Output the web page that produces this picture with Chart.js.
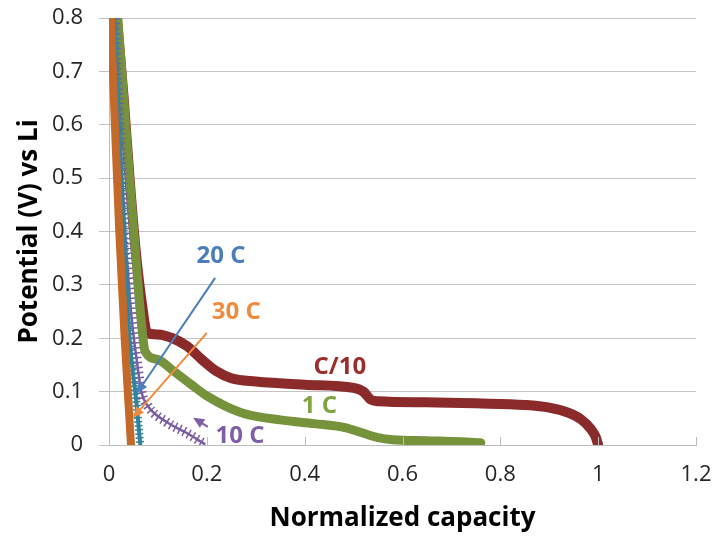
<!DOCTYPE html>
<html>
<head>
<meta charset="utf-8">
<script src="https://cdn.jsdelivr.net/npm/chart.js@4.4.0/dist/chart.umd.min.js"></script>
<style>
  html, body { margin: 0; padding: 0; background: #fff; }
  #graph-parent { width: 713px; height: 540px; }
</style>
</head>
<body>
<div id="graph-parent"><canvas id="graph"></canvas></div>
<script>
// discharge curves (x = normalized capacity, y = potential V vs Li)
const capC10 = [0.016, 0.03, 0.042, 0.055, 0.068, 0.078, 0.1, 0.13, 0.16, 0.19, 0.22, 0.25, 0.3, 0.4, 0.5, 0.52, 0.535, 0.55, 0.65, 0.75, 0.85, 0.9, 0.94, 0.965, 0.985, 0.995, 1.0]
const voltC10 = [0.8, 0.65, 0.5, 0.36, 0.26, 0.21, 0.207, 0.2, 0.185, 0.16, 0.138, 0.125, 0.119, 0.113, 0.107, 0.1, 0.085, 0.082, 0.08, 0.078, 0.075, 0.07, 0.06, 0.048, 0.03, 0.015, 0.0]

const cap1C = [0.018, 0.03, 0.042, 0.055, 0.065, 0.074, 0.1, 0.13, 0.17, 0.2, 0.24, 0.28, 0.35, 0.42, 0.48, 0.52, 0.55, 0.58, 0.65, 0.72, 0.76]
const volt1C = [0.8, 0.65, 0.5, 0.35, 0.24, 0.175, 0.16, 0.14, 0.112, 0.092, 0.072, 0.058, 0.047, 0.04, 0.033, 0.022, 0.014, 0.01, 0.008, 0.006, 0.004]

const cap10C = [0.012, 0.022, 0.033, 0.045, 0.058, 0.066, 0.078, 0.118, 0.16, 0.195]
const volt10C = [0.8, 0.6, 0.4, 0.25, 0.15, 0.1, 0.075, 0.043, 0.022, 0.002]

const cap20C = [0.01, 0.02, 0.03, 0.042, 0.056, 0.064]
const volt20C = [0.8, 0.6, 0.4, 0.2, 0.08, 0.0]

const cap30C = [0.004, 0.012, 0.021, 0.032, 0.045]
const volt30C = [0.8, 0.6, 0.4, 0.2, 0.0]

// tick labels
const xTicks = [0, 0.2, 0.4, 0.6, 0.8, 1, 1.2]
const yTicks = [0, 0.1, 0.2, 0.3, 0.4, 0.5, 0.6, 0.7, 0.8]

// annotation texts and where they sit (data units)
const noteText = ['20 C', '30 C', '10 C', 'C/10', '1 C']
const noteX = [0.229, 0.26, 0.268, 0.472, 0.43]
const noteY = [0.354, 0.249, 0.016, 0.145, 0.073]
const noteColor = ['#4a7ebb', '#f08a3c', '#7e5ea6', '#9b2d2d', '#7fa542']

// arrows: from -> to (data units)
const arrowFromX = [0.217, 0.2, 0.202]
const arrowFromY = [0.313, 0.21, 0.034]
const arrowToX = [0.057, 0.049, 0.172]
const arrowToY = [0.097, 0.051, 0.051]
const arrowColor = ['#4a7ebb', '#f08a3c', '#7e5ea6']

const FONT = "'Open Sans', 'Noto Sans', sans-serif"

function pts(xs, ys) {
    return xs.map((x, i) => ({x: x, y: ys[i]}))
}

function line(label, xs, ys, color, width, order, dash) {
    return {
        label: label,
        data: pts(xs, ys),
        borderColor: color,
        backgroundColor: color,
        borderWidth: width,
        borderDash: dash || [],
        borderCapStyle: dash ? 'butt' : 'round',
        pointRadius: 0,
        fill: false,
        cubicInterpolationMode: 'monotone',
        order: order
    }
}

const notes = {
    id: 'notes',
    afterDatasetsDraw(chart) {
        const ctx = chart.ctx
        const xs = chart.scales.x
        const ys = chart.scales.y
        ctx.save()

        // small inside tick marks on the x axis
        ctx.strokeStyle = '#bdbdbd'
        ctx.lineWidth = 1
        xTicks.forEach(v => {
            const px = Math.round(xs.getPixelForValue(v)) + 0.5
            ctx.beginPath()
            ctx.moveTo(px, ys.bottom)
            ctx.lineTo(px, ys.bottom - 8)
            ctx.stroke()
        })

        // arrows
        arrowFromX.forEach((fx, i) => {
            const x1 = xs.getPixelForValue(fx), y1 = ys.getPixelForValue(arrowFromY[i])
            const x2 = xs.getPixelForValue(arrowToX[i]), y2 = ys.getPixelForValue(arrowToY[i])
            const a = Math.atan2(y2 - y1, x2 - x1)
            const len = 11, half = 5
            ctx.strokeStyle = arrowColor[i]
            ctx.fillStyle = arrowColor[i]
            ctx.lineWidth = 2
            ctx.beginPath()
            ctx.moveTo(x1, y1)
            ctx.lineTo(x2 - Math.cos(a) * len * 0.8, y2 - Math.sin(a) * len * 0.8)
            ctx.stroke()
            ctx.beginPath()
            ctx.moveTo(x2, y2)
            ctx.lineTo(x2 - Math.cos(a) * len - Math.sin(a) * half, y2 - Math.sin(a) * len + Math.cos(a) * half)
            ctx.lineTo(x2 - Math.cos(a) * len + Math.sin(a) * half, y2 - Math.sin(a) * len - Math.cos(a) * half)
            ctx.closePath()
            ctx.fill()
        })

        // curve labels
        ctx.font = "bold 24px " + FONT
        ctx.textAlign = 'center'
        ctx.textBaseline = 'middle'
        noteText.forEach((t, i) => {
            ctx.fillStyle = noteColor[i]
            ctx.fillText(t, xs.getPixelForValue(noteX[i]), ys.getPixelForValue(noteY[i]))
        })
        ctx.restore()
    }
}

let ctx = document.getElementById("graph").getContext("2d")
var graph = new Chart(ctx, {
    type: 'line',
    data: {
        datasets: [
            line('30 C', cap30C, volt30C, '#c4692a', 8, 0),
            line('20 C hatch', cap20C, volt20C, '#31849b', 8, 1, [1.5, 2.5]),
            line('20 C', cap20C, volt20C, '#31849b', 4, 1),
            line('10 C hatch', cap10C, volt10C, '#7a5ca3', 10, 2, [1.5, 3.5]),
            line('10 C', cap10C, volt10C, '#7a5ca3', 2.5, 2),
            line('1 C', cap1C, volt1C, '#76933c', 9, 3),
            line('C/10', capC10, voltC10, '#8b2a2b', 10, 4)
        ]
    },
    options: {
        responsive: true,
        maintainAspectRatio: false,
        animation: false,
        layout: { padding: { top: 18, right: 17, left: 0, bottom: 0 } },
        plugins: {
            legend: { display: false },
            tooltip: { enabled: false }
        },
        scales: {
            x: {
                type: 'linear',
                min: 0,
                max: 1.2,
                afterBuildTicks: s => { s.ticks = xTicks.map(v => ({value: v})) },
                afterFit: s => { s.height = 95; s.paddingRight = 0; s.paddingLeft = 0 },
                ticks: {
                    color: '#262626',
                    font: { family: FONT, size: 22 },
                    padding: 17,
                    maxRotation: 0,
                    callback: v => String(v)
                },
                grid: { drawOnChartArea: false, drawTicks: false },
                border: { display: true, color: '#bdbdbd', width: 1 },
                title: {
                    display: true,
                    text: 'Normalized capacity',
                    color: '#000',
                    font: { family: FONT, size: 26, weight: 'bold' },
                    padding: { top: 0, bottom: 6 }
                }
            },
            y: {
                type: 'linear',
                min: 0,
                max: 0.8,
                afterBuildTicks: s => { s.ticks = yTicks.map(v => ({value: v})) },
                afterFit: s => { s.width = 109; s.paddingTop = 0; s.paddingBottom = 0 },
                ticks: {
                    color: '#262626',
                    font: { family: FONT, size: 22 },
                    padding: 16,
                    callback: v => String(v)
                },
                grid: { color: '#c3c3c3', lineWidth: 1, tickLength: 10 },
                border: { display: true, color: '#bdbdbd', width: 1 },
                title: {
                    display: true,
                    text: 'Potential (V) vs Li',
                    color: '#000',
                    font: { family: FONT, size: 26, weight: 'bold' },
                    padding: { top: 14, bottom: 0 }
                }
            }
        }
    },
    plugins: [notes]
})
</script>
</body>
</html>
